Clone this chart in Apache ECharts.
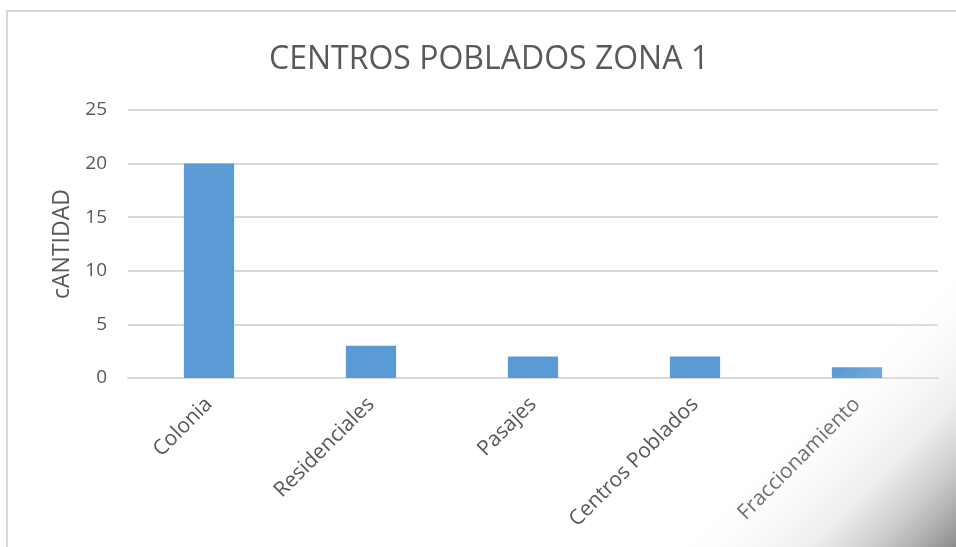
<!DOCTYPE html>
<html>
<head>
<meta charset="utf-8">
<script src="https://cdn.jsdelivr.net/npm/echarts@6/dist/echarts.min.js"></script>
<style>
  html, body { margin: 0; padding: 0; background: #fff; }
  #chart { width: 956px; height: 547px; }
</style>
</head>
<body>
<div id="chart"></div>
<script>
const categories = ['Colonia', 'Residenciales', 'Pasajes', 'Centros Poblados', 'Fraccionamiento'];
const cantidad = [20, 3, 2, 2, 1];
const yTicks = [0, 5, 10, 15, 20, 25];

const textColor = '#595959';
const chart = echarts.init(document.getElementById('chart'));

const option = {
  animation: false,
  backgroundColor: '#fff',
  title: {
    text: 'CENTROS POBLADOS ZONA 1',
    left: 264,
    top: 39,
    textStyle: {
      fontFamily: '"Open Sans", sans-serif',
      fontWeight: 'normal',
      fontSize: 32,
      color: textColor
    }
  },
  grid: {
    left: 128,
    right: 18,
    top: 110,
    bottom: 169
  },
  xAxis: {
    type: 'category',
    data: categories,
    axisLine: { lineStyle: { color: '#d9d9d9', width: 2 } },
    axisTick: { show: false },
    axisLabel: {
      rotate: 45,
      margin: 23,
      fontSize: 21,
      fontFamily: '"Open Sans", sans-serif',
      color: textColor
    }
  },
  yAxis: {
    type: 'value',
    min: yTicks[0],
    max: yTicks[yTicks.length - 1],
    interval: 5,
    name: 'cANTIDAD',
    nameLocation: 'middle',
    nameGap: 53,
    nameTextStyle: {
      fontSize: 23,
      fontFamily: '"Open Sans", sans-serif',
      color: textColor
    },
    axisLine: { show: false },
    axisTick: { show: false },
    axisLabel: {
      margin: 21,
      fontSize: 19,
      fontFamily: '"Open Sans", sans-serif',
      color: textColor
    },
    splitLine: { lineStyle: { color: '#d9d9d9', width: 2 } }
  },
  series: [{
    name: 'cANTIDAD',
    type: 'bar',
    data: cantidad,
    barWidth: '31%',
    itemStyle: { color: '#5b9bd5' }
  }],
  graphic: [
    {
      type: 'rect',
      silent: true,
      shape: { x: 7, y: 11, width: 960, height: 560 },
      style: { fill: 'none', stroke: '#d9d9d9', lineWidth: 2 }
    },
    {
      type: 'polygon',
      silent: true,
      z: 100,
      shape: { points: [[660, 547], [956, 251], [956, 547]] },
      style: {
        fill: new echarts.graphic.LinearGradient(604, 604, 752, 752, [
          { offset: 0, color: 'rgba(255,255,255,0)' },
          { offset: 0.5, color: 'rgba(215,215,215,0.45)' },
          { offset: 1, color: 'rgba(125,125,125,0.9)' }
        ], true)
      }
    }
  ]
};

chart.setOption(option);
</script>
</body>
</html>
